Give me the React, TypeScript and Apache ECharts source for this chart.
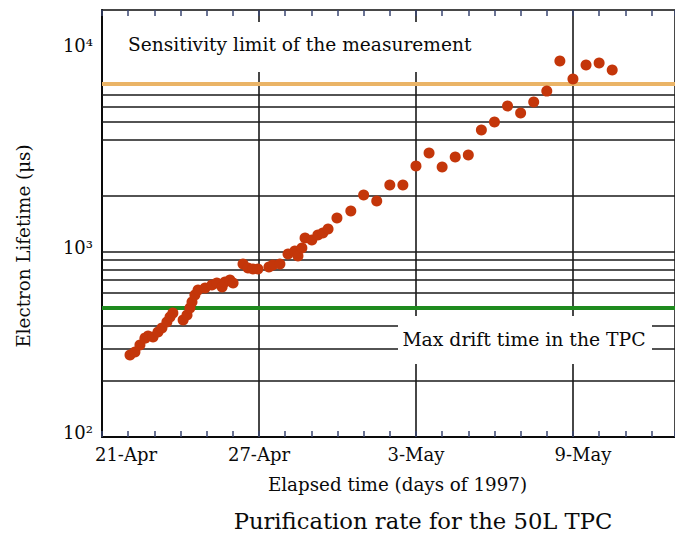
import React, { useEffect, useRef } from "react";
import * as echarts from "echarts";

// Elapsed days since 21-Apr-1997
const days = [
  1.07, 1.26, 1.45, 1.64, 1.76, 1.95, 2.14, 2.29, 2.48, 2.6,
  2.71, 3.1, 3.25, 3.36, 3.44, 3.55, 3.67, 3.94, 4.2, 4.39,
  4.59, 4.7, 4.89, 5.01, 5.39, 5.58, 5.77, 5.96, 6.38, 6.53,
  6.8, 7.11, 7.37, 7.49, 7.64, 7.76, 8.02, 8.25, 8.44, 8.64,
  8.98, 9.51, 10.0, 10.5, 11.0, 11.5, 12.0, 12.5, 13.0, 13.5,
  14.0, 14.5, 15.0, 15.5, 16.0, 16.5, 17.0, 17.5, 18.0, 18.5,
  19.0, 19.5,
];
// Electron lifetime (µs)
const lifetimes = [
  277, 287, 313, 341, 350, 346, 368, 387, 417, 443,
  466, 427, 454, 495, 534, 582, 620, 635, 659, 676,
  643, 684, 701, 676, 855, 814, 804, 804, 824, 845,
  855, 968, 1005, 945, 1043, 1180, 1152, 1226, 1257, 1320,
  1514, 1651, 2013, 1869, 2280, 2280, 2884, 3390, 2851, 3226,
  3306, 4510, 4980, 6070, 5570, 6380, 7310, 10620, 8490, 10100,
  10350, 9490,
];

const xTickDays = [0, 6, 12, 18];
const xTickLabels = ["21-Apr", "27-Apr", "3-May", "9-May"];
const yTickValues = [100, 1000, 10000];
const yTickLabels = ["10²", "10³", "10⁴"];

const gridLineValues = [200, 300, 400, 600, 700, 800, 900, 1000, 2000, 4000, 5000, 6000, 7000];
const driftLimit = 500;
const sensitivityLimit = 8000;

const FONT = "DejaVu Serif";
const INK = "#0a0a0a";
const TICK = "#3a4670";

export default function App() {
  const ref = useRef<HTMLDivElement>(null);
  useEffect(() => {
    if (!ref.current) return;
    const chart = echarts.init(ref.current, undefined, { renderer: "svg" });
    const points = days.map((d, i) => [d, lifetimes[i]]);
    const option: any = {
      animation: false,
      backgroundColor: "#ffffff",
      title: {
        text: "Purification rate for the 50L TPC",
        left: 418,
        top: 504,
        textAlign: "center",
        textStyle: { fontFamily: FONT, fontSize: 22.7, fontWeight: "normal", color: INK },
      },
      grid: { left: 102, top: 10, right: 0, bottom: 108 },
      xAxis: [
        {
          type: "value",
          min: 0,
          max: 21.9,
          interval: 6,
          name: "Elapsed time (days of 1997)",
          nameLocation: "middle",
          nameGap: 38,
          nameTextStyle: { fontFamily: FONT, fontSize: 18.3, color: INK, padding: [0, 0, 0, 18] },
          axisLine: { show: true, lineStyle: { color: INK, width: 2 } },
          axisTick: { show: true, inside: true, length: 6, lineStyle: { color: TICK, width: 1.5 } },
          minorTick: { show: true, splitNumber: 6, length: 6, lineStyle: { color: TICK, width: 1.5 } },
          splitLine: { show: true, lineStyle: { color: INK, width: 1.5 } },
          axisLabel: {
            margin: 8,
            showMaxLabel: false,
            fontFamily: FONT,
            fontSize: 18,
            color: INK,
            formatter: (v: number) => {
              const i = xTickDays.indexOf(Math.round(v * 100) / 100);
              if (i < 0) return "";
              if (i === 0) return "{first|" + xTickLabels[i] + "}";
              if (i === xTickDays.length - 1) return "{last|" + xTickLabels[i] + "}";
              return xTickLabels[i];
            },
            rich: {
              first: { fontFamily: FONT, fontSize: 18, color: INK, padding: [0, 0, 0, 48] },
              last: { fontFamily: FONT, fontSize: 18, color: INK, padding: [0, 0, 0, 20] },
            },
          },
        },
        {
          type: "value",
          position: "top",
          min: 0,
          max: 21.9,
          interval: 6,
          axisLine: { show: true, lineStyle: { color: INK, width: 1.5 } },
          axisTick: { show: true, inside: true, length: 6, lineStyle: { color: TICK, width: 1.5 } },
          minorTick: { show: true, splitNumber: 6, length: 6, lineStyle: { color: TICK, width: 1.5 } },
          splitLine: { show: false },
          axisLabel: { show: false },
        },
      ],
      yAxis: {
        type: "log",
        logBase: 10,
        min: 100,
        max: 20000,
        name: "Electron Lifetime (μs)",
        nameLocation: "middle",
        nameGap: 70,
        nameTextStyle: { fontFamily: FONT, fontSize: 18.3, color: INK, padding: [0, 45, 0, 0] },
        axisLine: { show: true, lineStyle: { color: INK, width: 2 } },
        axisTick: { show: false },
        splitLine: { show: false },
        axisLabel: {
          margin: 9,
          showMaxLabel: false,
          fontFamily: FONT,
          fontSize: 18,
          color: INK,
          formatter: (v: number) => {
            const i = yTickValues.findIndex((t) => Math.abs(t - v) / t < 1e-6);
            if (i < 0) return "";
            return "{t" + i + "|" + yTickLabels[i] + "}";
          },
          rich: {
            t0: { fontFamily: FONT, fontSize: 18, color: INK, padding: [0, 0, 10, 0] },
            t1: { fontFamily: FONT, fontSize: 18, color: INK, padding: [0, 0, 8, 0] },
            t2: { fontFamily: FONT, fontSize: 18, color: INK, padding: [0, 0, 40, 0] },
          },
        },
      },
      series: [
        {
          type: "line",
          data: [],
          z: 1,
          silent: true,
          markLine: {
            silent: true,
            symbol: ["none", "none"],
            label: { show: false },
            animation: false,
            data: [
              ...gridLineValues.map((v) => ({ yAxis: v, lineStyle: { color: "#1a1a1a", width: 1.5, type: "solid" } })),
              { yAxis: driftLimit, lineStyle: { color: "#1e8a1e", width: 4, type: "solid" } },
              { yAxis: sensitivityLimit, lineStyle: { color: "#eab467", width: 4, type: "solid" } },
            ],
          },
        },
        {
          type: "scatter",
          data: points,
          z: 5,
          symbol: "circle",
          symbolSize: 11,
          itemStyle: { color: "#c4360a", opacity: 1 },
        },
      ],
      graphic: [
        {
          type: "rect",
          z: 100,
          shape: { x: 105, y: 22, width: 385, height: 50 },
          style: { fill: "#ffffff" },
        },
        {
          type: "text",
          z: 101,
          x: 128,
          y: 44,
          style: {
            text: "Sensitivity limit of the measurement",
            fontFamily: FONT,
            fontSize: 18.6,
            fill: INK,
            verticalAlign: "middle",
            align: "left",
          },
        },
        {
          type: "rect",
          z: 100,
          shape: { x: 398, y: 316, width: 254, height: 48 },
          style: { fill: "#ffffff" },
        },
        {
          type: "text",
          z: 101,
          x: 524,
          y: 339,
          style: {
            text: "Max drift time in the TPC",
            fontFamily: FONT,
            fontSize: 18.8,
            fill: INK,
            verticalAlign: "middle",
            align: "center",
          },
        },
      ],
    };
    chart.setOption(option);
    return () => chart.dispose();
  }, []);
  return (
    <div
      ref={ref}
      style={{ position: "fixed", left: 0, top: 0, width: 675, height: 545 }}
    />
  );
}
